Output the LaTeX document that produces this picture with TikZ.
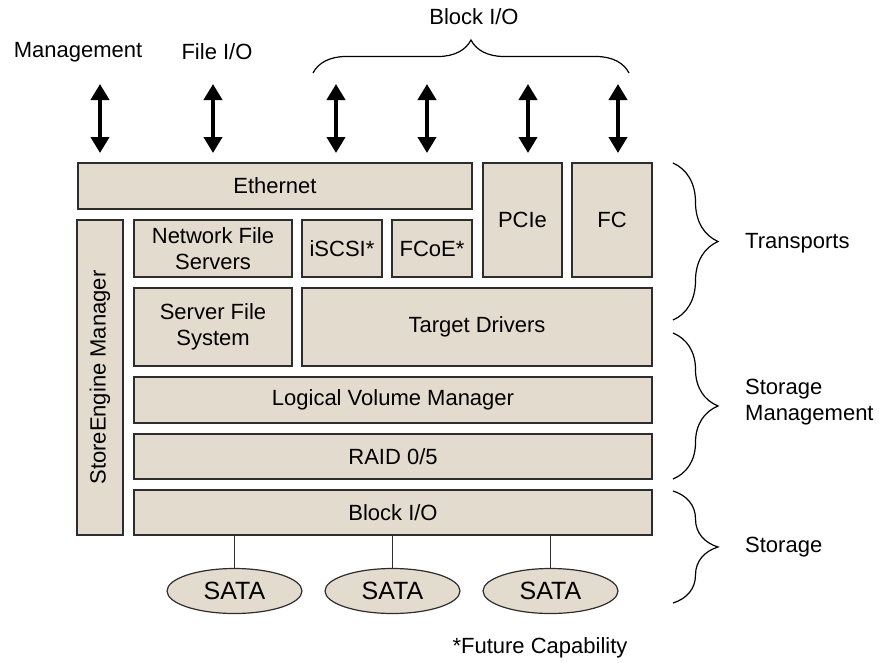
\documentclass[tikz,border=0pt]{standalone}
\usepackage{fontspec}
\setmainfont{Liberation Sans}
\usetikzlibrary{arrows.meta,shapes.geometric,decorations.pathreplacing}
\definecolor{boxfill}{RGB}{227,219,206}
\definecolor{edge}{RGB}{45,45,45}
\begin{document}
\begin{tikzpicture}[x=1pt,y=-1pt,
  box/.style={draw=edge,fill=boxfill,line width=1.2pt,inner sep=0pt,align=center,
    font=\fontsize{22}{26}\selectfont},
  disk/.style={ellipse,draw=edge,fill=boxfill,line width=1.2pt,inner sep=0pt,
    minimum width=135pt,minimum height=45pt,font=\fontsize{25}{30}\selectfont},
  lbl/.style={font=\fontsize{22}{26}\selectfont,align=left,inner sep=0pt},
  io/.style={line width=4pt,{Triangle[width=18pt,length=16pt]}-{Triangle[width=18pt,length=16pt]}},
  brc/.style={decorate,decoration={brace,amplitude=#1},line width=1.2pt,draw=black}]
\useasboundingbox (0,0) rectangle (879,662);

% transports
\node[box,minimum width=394pt,minimum height=46pt] (eth) at (275,186) {Ethernet};
\node[box,minimum width=79pt,minimum height=114pt] (pcie) at (522.5,220) {PCIe};
\node[box,minimum width=80pt,minimum height=114pt] (fc) at (612,220) {FC};

% side manager
\node[box,rotate=90,minimum width=315pt,minimum height=46pt] (sem) at (100,377.5) {StoreEngine Manager};

% inner stack
\node[box,minimum width=158pt,minimum height=57pt] (nfs) at (213,248.5) {Network File\\Servers};
\node[box,minimum width=80pt,minimum height=57pt] (iscsi) at (342,248.5) {iSCSI*};
\node[box,minimum width=80pt,minimum height=57pt] (fcoe) at (432,248.5) {FCoE*};
\node[box,minimum width=158pt,minimum height=78pt] (sfs) at (213,327) {Server File\\System};
\node[box,minimum width=350pt,minimum height=78pt] (tgt) at (477,327) {Target Drivers};
\node[box,minimum width=518pt,minimum height=46pt] (lvm) at (393,400) {Logical Volume Manager};
\node[box,minimum width=518pt,minimum height=45pt] (raid) at (393,456.5) {RAID 0/5};
\node[box,minimum width=518pt,minimum height=45pt] (bio) at (393,512.5) {Block I/O};

% disks
\node[disk] (s1) at (234.5,591) {SATA};
\node[disk] (s2) at (392.5,591) {SATA};
\node[disk] (s3) at (550.5,591) {SATA};
\foreach \s in {s1,s2,s3}
  \draw[draw=edge,line width=1.2pt] (\s.north) -- (\s.north |- bio.south);

% I/O arrows
\foreach \n/\x in {a/100,b/213,c/336,d/427,e/528,f/618}{
  \coordinate (\n top) at (\x,84);
  \coordinate (\n bot) at (\x,153);
  \draw[io] (\n top) -- (\n bot);
}

% top labels
\node[lbl] (mgmt) at (78,52) {Management};
\node[lbl] (fio) at (217,52) {File I/O};
\node[lbl] (bio lbl) at (474,17) {Block I/O};
\coordinate (tb1) at (313,73);
\coordinate (tb2) at (629,73);
\draw[brc=33] (tb1) -- (tb2);

% right braces
\coordinate (r1a) at (673,163);
\coordinate (r1b) at (673,320);
\coordinate (r2a) at (673,333);
\coordinate (r2b) at (673,479);
\coordinate (r3a) at (673,491);
\coordinate (r3b) at (673,603);
\draw[brc=45] (r1a) -- (r1b);
\draw[brc=45] (r2a) -- (r2b);
\draw[brc=45] (r3a) -- (r3b);
\node[lbl,anchor=west] (trans) at (745,243) {Transports};
\node[lbl,anchor=west] (smgmt) at (745,402) {Storage\\Management};
\node[lbl,anchor=west] (stor) at (745,547) {Storage};

\node[lbl] (future) at (540,648) {*Future Capability};
\end{tikzpicture}
\end{document}
